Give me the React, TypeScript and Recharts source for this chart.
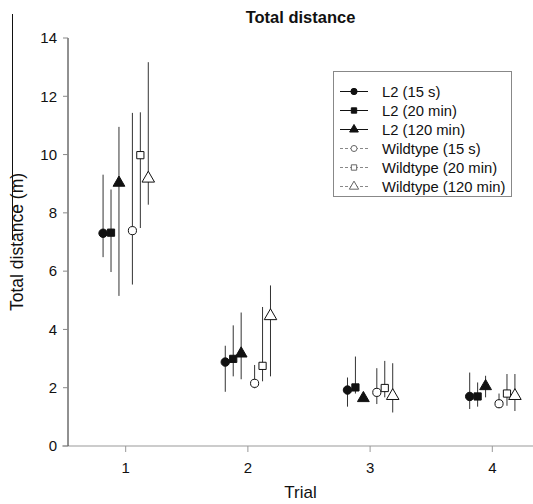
import React from 'react';
import {
  ScatterChart,
  Scatter,
  XAxis,
  YAxis,
  ErrorBar,
  Legend,
  ReferenceLine,
  Symbols,
} from 'recharts';

const FONT = '"Liberation Sans", Arial, sans-serif';

const trials = [1, 2, 3, 4];
const yTicks = [0, 2, 4, 6, 8, 10, 12, 14];

// means and error-bar ends per trial (1..4)
const l2Sec15 = [7.3, 2.88, 1.92, 1.7];
const l2Sec15Low = [6.48, 1.86, 1.35, 1.27];
const l2Sec15High = [9.31, 3.44, 2.35, 2.52];

const l2Min20 = [7.32, 2.99, 2.01, 1.7];
const l2Min20Low = [5.97, 2.39, 1.8, 1.35];
const l2Min20High = [8.8, 4.14, 3.07, 2.18];

const l2Min120 = [9.03, 3.17, 1.64, 2.05];
const l2Min120Low = [5.15, 2.29, 1.58, 1.67];
const l2Min120High = [10.95, 4.58, 1.7, 2.41];

const wtSec15 = [7.39, 2.15, 1.84, 1.45];
const wtSec15Low = [5.54, 1.98, 1.44, 1.3];
const wtSec15High = [11.43, 2.78, 2.67, 1.8];

const wtMin20 = [9.98, 2.75, 1.99, 1.8];
const wtMin20Low = [7.48, 2.22, 1.67, 1.38];
const wtMin20High = [11.45, 4.77, 2.92, 2.47];

const wtMin120 = [9.18, 4.46, 1.72, 1.72];
const wtMin120Low = [8.28, 2.39, 1.15, 1.2];
const wtMin120High = [13.17, 5.51, 2.84, 2.47];

const series = [
  { name: 'L2 (15 s)', mean: l2Sec15, low: l2Sec15Low, high: l2Sec15High, type: 'circle', filled: true, size: 56, shift: -0.185 },
  { name: 'L2 (20 min)', mean: l2Min20, low: l2Min20Low, high: l2Min20High, type: 'square', filled: true, size: 52, shift: -0.12 },
  { name: 'L2 (120 min)', mean: l2Min120, low: l2Min120Low, high: l2Min120High, type: 'triangle', filled: true, size: 60, shift: -0.055 },
  { name: 'Wildtype (15 s)', mean: wtSec15, low: wtSec15Low, high: wtSec15High, type: 'circle', filled: false, size: 52, shift: 0.055 },
  { name: 'Wildtype (20 min)', mean: wtMin20, low: wtMin20Low, high: wtMin20High, type: 'square', filled: false, size: 52, shift: 0.12 },
  { name: 'Wildtype (120 min)', mean: wtMin120, low: wtMin120Low, high: wtMin120High, type: 'triangle', filled: false, size: 68, shift: 0.185 },
];

const makeShape = (type: any, filled: boolean, size: number) => (props: any) => (
  <Symbols
    cx={props.cx}
    cy={props.cy}
    type={type}
    size={size}
    fill={filled ? '#111' : '#fff'}
    stroke="#111"
    strokeWidth={1}
  />
);

const renderLegend = () => (
  <svg width={180} height={127} style={{ display: 'block' }}>
    <rect x={0.5} y={0.5} width={178} height={125} fill="#fff" stroke="#888" />
    {series.map((s, i) => {
      const y = 20.5 + i * 19;
      return (
        <g key={s.name}>
          <line
            x1={7}
            x2={35}
            y1={y}
            y2={y}
            stroke={s.filled ? '#111' : '#888'}
            strokeDasharray={s.filled ? undefined : '3 2'}
          />
          <Symbols
            cx={21}
            cy={y}
            type={s.type as any}
            size={s.size * 0.55}
            fill={s.filled ? '#111' : '#fff'}
            stroke={s.filled ? '#111' : '#666'}
          />
          <text x={49} y={y} dominantBaseline="central" fontSize={14.8} fontFamily={FONT} fill="#111">
            {s.name}
          </text>
        </g>
      );
    })}
  </svg>
);

export default function App() {
  return (
    <div
      style={{
        position: 'absolute',
        left: 0,
        top: 0,
        width: 533,
        height: 504,
        background: '#fff',
        overflow: 'hidden',
        fontFamily: FONT,
      }}
    >
      <div
        style={{
          position: 'absolute',
          left: 68,
          width: 465,
          top: 8,
          textAlign: 'center',
          fontSize: 16.5,
          fontWeight: 'bold',
          color: '#111',
        }}
      >
        Total distance
      </div>
      <div style={{ position: 'absolute', left: 12, top: 14, height: 226, borderLeft: '1px solid #111' }} />
      <ScatterChart width={533} height={504} margin={{ top: 38, right: 0, bottom: 0, left: 0 }}>
        <XAxis
          type="number"
          dataKey="x"
          domain={[0.528, 4.333]}
          allowDataOverflow
          ticks={trials}
          tickSize={6}
          tickMargin={10}
          height={58}
          stroke="#999"
          tick={{ fontSize: 15, fill: '#111', fontFamily: FONT }}
          label={{ value: 'Trial', position: 'insideBottom', offset: 6, style: { fontSize: 17, fill: '#111', fontFamily: FONT } }}
        />
        <YAxis
          type="number"
          dataKey="y"
          domain={[0, 14]}
          ticks={yTicks}
          width={68}
          tickSize={5}
          tickMargin={6}
          axisLine={{ stroke: '#222' }}
          tickLine={{ stroke: '#888' }}
          tick={{ fontSize: 15, fill: '#111', fontFamily: FONT }}
          label={{
            value: 'Total distance (m)',
            angle: -90,
            position: 'insideLeft',
            offset: 17,
            style: { textAnchor: 'middle', fontSize: 17.5, fill: '#111', fontFamily: FONT },
          }}
        />
        <ReferenceLine
          segment={[{ x: 0.48, y: 0 }, { x: 0.528, y: 0 }]}
          stroke="#999"
          ifOverflow="visible"
        />
        <Legend
          layout="vertical"
          align="center"
          verticalAlign="middle"
          wrapperStyle={{ left: 333, top: 71, width: 180, height: 127 }}
          content={renderLegend}
        />
        {series.map((s) => (
          <Scatter
            key={s.name}
            name={s.name}
            data={trials.map((t, i) => ({
              x: t + s.shift,
              y: s.mean[i],
              err: [s.mean[i] - s.low[i], s.high[i] - s.mean[i]],
            }))}
            shape={makeShape(s.type, s.filled, s.size)}
            isAnimationActive={false}
          >
            <ErrorBar dataKey="err" direction="y" width={0} stroke="#333" strokeWidth={1} />
          </Scatter>
        ))}
      </ScatterChart>
    </div>
  );
}
